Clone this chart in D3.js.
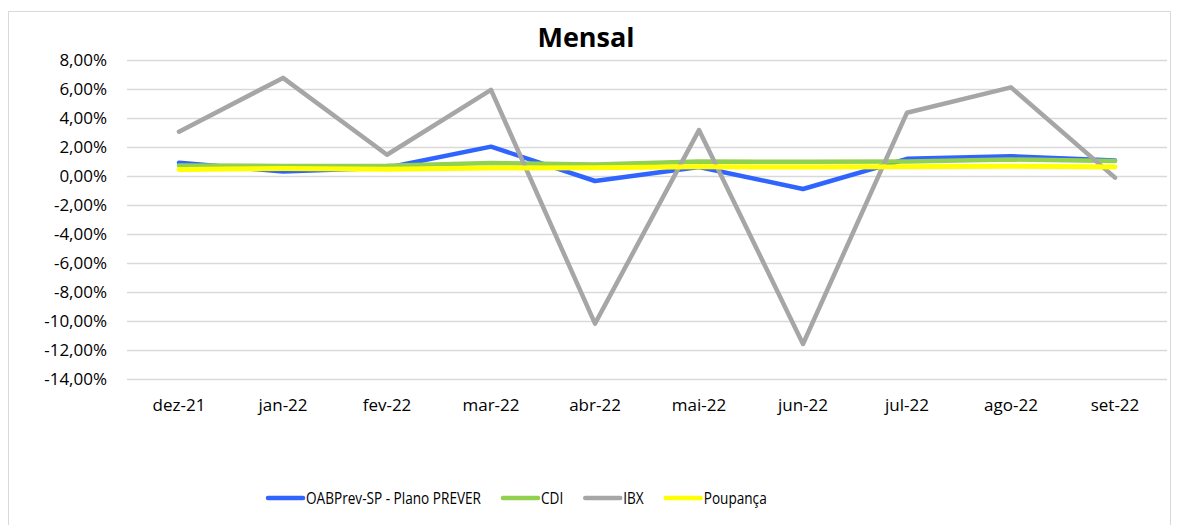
<!DOCTYPE html>
<html>
<head>
<meta charset="utf-8">
<script src="https://cdn.jsdelivr.net/npm/d3@7"></script>
<style>
  body { margin: 0; background: #fff; }
  text { font-family: "Open Sans", sans-serif; fill: #000; }
</style>
</head>
<body>
<div id="chart"></div>
<script>
const months = ["dez-21", "jan-22", "fev-22", "mar-22", "abr-22", "mai-22", "jun-22", "jul-22", "ago-22", "set-22"];
const oabprev = [0.95, 0.35, 0.6, 2.06, -0.31, 0.66, -0.86, 1.22, 1.4, 1.1];
const cdi = [0.76, 0.73, 0.75, 0.93, 0.83, 1.03, 1.02, 1.03, 1.17, 1.07];
const ibx = [3.09, 6.8, 1.5, 5.97, -10.15, 3.2, -11.55, 4.4, 6.15, -0.08];
const poupanca = [0.49, 0.56, 0.5, 0.59, 0.6, 0.67, 0.65, 0.67, 0.71, 0.66];
const yTicks = [8, 6, 4, 2, 0, -2, -4, -6, -8, -10, -12, -14];

const series = [
  { name: "OABPrev-SP - Plano PREVER", values: oabprev, color: "#2F64FF" },
  { name: "CDI", values: cdi, color: "#92D050" },
  { name: "IBX", values: ibx, color: "#A6A6A6" },
  { name: "Poupança", values: poupanca, color: "#FFFF00" }
];

const W = 1178, H = 525;
const svg = d3.select("#chart").append("svg").attr("width", W).attr("height", H);

// chart frame
svg.append("rect")
  .attr("x", 8.5).attr("y", 11.5)
  .attr("width", 1162).attr("height", 530)
  .attr("fill", "#fff").attr("stroke", "#D9D9D9");

const x = d3.scaleBand().domain(months).range([127, 1167]);
const y = d3.scaleLinear().domain([-14, 8]).range([379.5, 60.5]);

// gridlines
svg.append("g").selectAll("line").data(yTicks).enter().append("line")
  .attr("x1", 127).attr("x2", 1167)
  .attr("y1", (d) => y(d)).attr("y2", (d) => y(d))
  .attr("stroke", "#D9D9D9").attr("stroke-width", 1.3);

const fmt = (d) => d.toFixed(2).replace(".", ",") + "%";

// y axis labels
const yAxis = svg.append("g")
  .attr("transform", "translate(117,0)")
  .call(d3.axisLeft(y).tickValues(yTicks).tickFormat(fmt).tickSize(0).tickPadding(10));
yAxis.select(".domain").remove();
yAxis.selectAll("text").style("font-size", "17px").style("font-family", "'Open Sans', sans-serif").attr("fill", "#000");

// x axis labels
const xAxis = svg.append("g")
  .attr("transform", "translate(0,396)")
  .call(d3.axisBottom(x).tickSize(0).tickPadding(3));
xAxis.select(".domain").remove();
xAxis.selectAll("text").style("font-size", "17px").style("font-family", "'Open Sans', sans-serif").attr("fill", "#000");

// title
svg.append("text")
  .attr("x", 586).attr("y", 47)
  .attr("text-anchor", "middle")
  .style("font-size", "27px").style("font-weight", "bold")
  .text("Mensal");

// lines
const line = d3.line()
  .x((d, i) => x(months[i]) + x.bandwidth() / 2)
  .y((d) => y(d));

svg.append("g").selectAll("path").data(series).enter().append("path")
  .attr("d", (s) => line(s.values))
  .attr("fill", "none")
  .attr("stroke", (s) => s.color)
  .attr("stroke-width", (s) => (s.name === "Poupança" ? 5 : 4.5))
  .attr("stroke-linejoin", "round")
  .attr("stroke-linecap", "round");

// legend (text squeezed a bit to mimic the narrow original font)
const legend = svg.append("g").attr("transform", "translate(0,498)");
let lx = 268;
series.forEach((s) => {
  const g = legend.append("g").attr("transform", "translate(" + lx + ",0)");
  g.append("line").attr("x1", 0).attr("x2", 35)
    .attr("stroke", s.color).attr("stroke-width", 4.5).attr("stroke-linecap", "round");
  const t = g.append("text").attr("x", 38).attr("dy", "0.35em")
    .style("font-size", "17px").text(s.name);
  const len = t.node().getComputedTextLength() * 0.8;
  t.attr("textLength", len).attr("lengthAdjust", "spacingAndGlyphs");
  lx += 38 + len + 22;
});
</script>
</body>
</html>
